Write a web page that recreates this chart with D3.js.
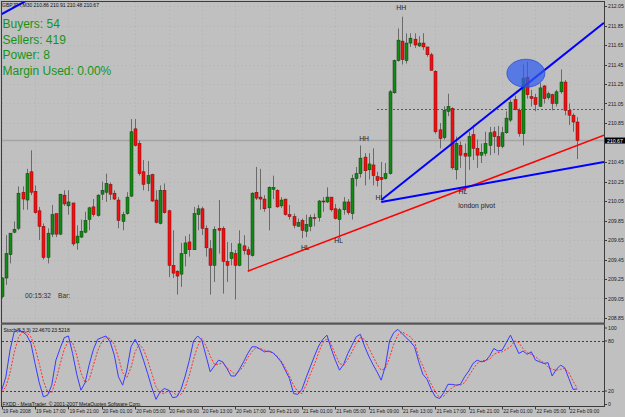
<!DOCTYPE html>
<html>
<head>
<meta charset="utf-8">
<script src="https://cdn.jsdelivr.net/npm/d3@7"></script>
<style>
  body { margin: 0; background: #c0c0c0; }
  svg { display: block; }
</style>
</head>
<body>
<div id="chart"></div>
<script>
// GBPJPY M30, bar 1 = 19 Feb 13:00 ... bar 139 = 22 Feb 10:00
const opens = [209.07,209.26,209.50,209.73,209.77,210.14,210.06,210.35,210.15,209.95,
  209.79,209.47,209.71,209.92,209.71,210.11,210.00,210.03,209.62,209.68,
  209.73,209.86,209.99,209.90,210.12,210.14,210.22,210.13,210.06,209.84,
  209.92,210.10,210.79,210.64,210.35,210.23,210.32,210.06,209.82,210.16,
  209.95,209.39,209.33,209.30,209.51,209.63,209.55,209.91,209.97,209.77,
  209.56,209.39,209.77,209.77,209.43,209.46,209.51,209.39,209.59,209.55,
  209.49,210.14,210.09,210.07,209.98,210.17,210.16,210.00,210.07,209.91,
  209.89,209.79,209.85,209.74,209.79,209.88,209.88,210.05,210.04,210.09,
  209.97,209.86,209.96,210.04,209.92,210.28,210.33,210.50,210.37,210.42,
  210.30,210.29,210.28,210.33,211.16,211.49,211.69,211.49,211.67,211.71,
  211.64,211.67,211.63,211.55,211.38,210.78,210.70,210.97,211.00,210.37,
  210.62,210.54,210.51,210.73,210.59,210.52,210.54,210.62,210.76,210.71,
  210.61,210.75,210.88,211.09,210.98,210.74,211.32,211.12,211.11,211.02,
  211.23,211.11,211.14,211.05,211.17,211.27,210.98,210.93,210.86];
const highs = [209.27,209.70,209.72,209.84,210.20,210.20,210.38,210.57,210.21,209.99,
  209.82,209.77,210.01,209.92,210.12,210.16,210.16,210.03,209.80,209.86,
  209.94,209.99,210.07,210.12,210.25,210.33,210.24,210.16,210.09,209.94,
  210.14,210.89,210.89,210.67,210.47,210.46,210.33,210.16,210.21,210.23,
  209.96,209.75,209.34,209.62,209.69,209.71,209.99,210.01,209.99,209.80,
  209.65,209.79,210.06,209.79,209.63,209.62,209.55,209.75,209.70,209.58,
  210.14,210.40,210.38,210.11,210.20,210.31,210.17,210.09,210.07,210.01,
  209.92,209.87,209.87,209.91,209.91,209.92,210.06,210.09,210.19,210.09,
  210.02,209.98,210.09,210.07,210.32,210.40,210.62,210.54,210.54,210.59,
  210.35,210.45,210.44,211.19,211.50,211.82,211.94,211.77,211.77,211.77,
  211.74,211.77,211.63,211.57,211.39,210.85,211.02,211.15,211.01,210.71,
  210.66,210.64,210.76,210.83,210.68,210.64,210.76,210.81,210.81,210.82,
  210.81,210.97,211.09,211.13,211.00,211.45,211.48,211.19,211.15,211.26,
  211.24,211.17,211.15,211.19,211.40,211.29,211.05,210.95,210.91];
const lows = [209.05,209.19,209.41,209.72,209.75,209.96,209.96,210.11,209.92,209.65,
  209.45,209.41,209.68,209.68,209.70,210.00,209.91,209.59,209.55,209.67,
  209.72,209.75,209.89,209.89,210.06,210.04,210.06,210.06,209.77,209.75,
  209.91,210.09,210.61,210.31,210.16,210.15,210.04,209.82,209.81,209.92,
  209.27,209.26,209.09,209.17,209.38,209.48,209.55,209.75,209.70,209.48,
  209.09,209.22,209.51,209.10,209.22,209.39,209.04,209.38,209.50,209.33,
  209.48,210.06,209.96,209.94,209.75,210.07,209.98,209.98,209.90,209.86,
  209.77,209.79,209.67,209.68,209.74,209.79,209.84,209.94,210.03,209.94,
  209.86,209.67,209.91,209.91,209.86,210.20,210.29,210.21,210.27,210.21,
  210.20,210.08,210.27,210.32,211.15,211.48,211.45,211.46,211.63,211.62,
  211.63,211.60,211.53,211.39,210.74,210.59,210.68,210.92,210.37,210.27,
  210.39,210.15,210.37,210.47,210.39,210.44,210.51,210.52,210.54,210.52,
  210.59,210.74,210.86,210.98,210.71,210.62,211.10,211.02,210.97,211.02,
  211.05,211.09,210.98,211.02,211.15,210.93,210.83,210.76,210.48];
const closes = [209.26,209.51,209.72,209.76,210.13,210.07,210.33,210.14,209.93,209.79,
  209.47,209.72,209.91,209.71,210.12,210.02,210.04,209.61,209.69,209.74,
  209.85,209.98,209.91,210.11,210.16,210.23,210.12,210.07,209.85,209.91,
  210.09,210.76,210.62,210.33,210.22,210.31,210.05,209.83,210.16,209.93,
  209.39,209.31,209.28,209.51,209.62,209.55,209.92,209.97,209.77,209.57,
  209.39,209.76,209.75,209.43,209.39,209.52,209.39,209.61,209.54,209.50,
  210.13,210.08,210.07,209.97,210.19,210.19,209.99,210.06,209.91,209.89,
  209.80,209.83,209.75,209.81,209.88,209.87,210.05,210.04,210.09,209.96,
  209.87,209.96,210.04,209.93,210.28,210.33,210.49,210.36,210.43,210.31,
  210.26,210.27,210.33,211.17,211.49,211.70,211.50,211.67,211.72,211.65,
  211.67,211.63,211.55,211.39,210.76,210.69,210.98,211.02,210.39,210.64,
  210.52,210.51,210.71,210.59,210.52,210.55,210.64,210.75,210.71,210.61,
  210.75,210.90,211.06,210.99,210.74,211.31,211.14,211.10,211.04,211.21,
  211.10,211.15,211.05,211.17,211.27,210.98,210.93,210.86,210.67];

// Stoch(5,3,3) main / signal, one value per bar
const stochMain = [21,37,69,91,93,91,87,77,53,30, 13,15,27,57,71,84,86,65,40,21,
  30,52,70,82,84,86,79,63,37,27, 45,73,82,72,57,41,24,10,19,23,
  21,12,13,22,38,57,80,86,81,62, 43,50,57,55,47,38,38,46,55,65,
  73,73,70,67,68,66,61,55,45,35, 17,16,22,36,49,62,74,82,87,71,
  57,45,52,65,75,85,88,74,62,52, 43,33,50,80,90,94,89,84,79,73,
  55,40,34,22,13,11,18,28,28,27, 28,37,44,53,57,55,56,62,71,68,
  69,78,87,76,65,68,64,67,57,55, 53,54,38,46,51,48,35,22,22.467];
const stochSignal = [19,25,42,66,84,91,90,85,72,53, 32,19,18,33,52,70,80,78,63,42,
  30,34,51,68,79,84,83,76,60,42, 36,48,67,76,70,57,41,25,18,17,
  21,19,15,16,24,39,58,74,83,74, 62,52,52,54,48,44,40,44,50,60,
  67,72,71,69,67,66,62,56,48,38, 27,19,17,27,40,52,66,78,83,76,
  64,53,51,58,67,77,84,82,72,62, 52,45,47,60,76,87,91,88,85,79,
  60,50,38,28,19,12,14,19,24,27, 27,30,38,46,53,56,57,58,64,66,
  67,70,73,80,78,71,66,64,61,57, 54,49,46,45,46,47,42,32,23.5218];

const priceTicks = [212.05,211.85,211.65,211.45,211.25,211.05,210.85,210.45,210.25,
  210.05,209.85,209.65,209.45,209.25,209.05,208.85];
const stochTicks = [100, 80, 20, 0];
const stochLevels = [80, 20];
const timeTickBars = [1,9,17,25,33,41,49,57,65,73,81,89,97,105,113,121,129,137];
const timeTickLabels = ['19 Feb 2008','19 Feb 17:00','19 Feb 21:00','20 Feb 01:00','20 Feb 05:00',
  '20 Feb 09:00','20 Feb 13:00','20 Feb 17:00','20 Feb 21:00','21 Feb 01:00','21 Feb 05:00',
  '21 Feb 09:00','21 Feb 13:00','21 Feb 17:00','21 Feb 21:00','22 Feb 01:00','22 Feb 05:00','22 Feb 09:00'];

// trend lines drawn by hand on the chart: [bar, price] pairs, extended to the right
const redTrend = [[60, 209.33], [139, 210.62]];
const blueTrendUp = [[92, 210.06], [139, 211.66]];
const blueTrendFlat = [[92, 210.04], [139, 210.40]];
const blueTrendOld = [[1, 211.968], [7, 212.106]];
const pivotLevel = { from: 91, price: 210.99 };
const bidPrice = 210.67;
const highlight = [126.7, 211.36];

const notes = [
  { bar: 96.8, price: 212.03, text: 'HH' },
  { bar: 87.9, price: 210.69, text: 'HH' },
  { bar: 91.7, price: 210.09, text: 'HL' },
  { bar: 111.6, price: 210.15, text: 'HL' },
  { bar: 73.8, price: 209.57, text: 'HL' },
  { bar: 81.8, price: 209.65, text: 'HL' },
  { bar: 114.9, price: 210.00, text: 'london pivot' }
];
const infoLines = ['Buyers: 54', 'Sellers: 419', 'Power: 8', 'Margin Used: 0.00%'];

const W = 625, H = 417;
const left = 2, right = 604, mainTop = 2, mainBottom = 322, subTop = 325, subBottom = 406.5;
const font = '"Liberation Sans", Arial, sans-serif';

const svg = d3.select('#chart').append('svg')
  .attr('width', W).attr('height', H)
  .style('font-family', font);

svg.append('rect').attr('width', W).attr('height', H).attr('fill', '#c0c0c0');

const x = d3.scaleLinear().domain([1, 139]).range([1.7, 577.2]);
const y = d3.scaleLinear().domain([208.85, 212.05]).range([318, 6]);
const ys = d3.scaleLinear().domain([0, 100]).range([407.7, 324.3]);

const defs = svg.append('defs');
defs.append('clipPath').attr('id', 'clipMain').append('rect')
  .attr('x', left).attr('y', mainTop).attr('width', right - left).attr('height', mainBottom - mainTop);
defs.append('clipPath').attr('id', 'clipSub').append('rect')
  .attr('x', left).attr('y', subTop).attr('width', right - left).attr('height', subBottom - subTop);

// dotted grid
const grid = svg.append('g').attr('stroke', '#b2b2b2').attr('stroke-dasharray', '1,3');
grid.selectAll('.gy').data(priceTicks).join('line')
  .attr('x1', left).attr('x2', right)
  .attr('y1', d => Math.round(y(d)) + 0.5).attr('y2', d => Math.round(y(d)) + 0.5);
grid.selectAll('.gx').data(timeTickBars).join('line')
  .attr('x1', d => Math.round(x(d)) + 0.5).attr('x2', d => Math.round(x(d)) + 0.5)
  .attr('y1', mainTop).attr('y2', mainBottom);

const main = svg.append('g').attr('clip-path', 'url(#clipMain)');

// bid line
main.append('line').attr('x1', left).attr('x2', right)
  .attr('y1', y(bidPrice)).attr('y2', y(bidPrice))
  .attr('stroke', '#a4a4a4').attr('stroke-width', 1.6);

// pivot (red dotted)
main.append('line').attr('x1', x(pivotLevel.from)).attr('x2', right)
  .attr('y1', Math.round(y(pivotLevel.price)) + 0.5).attr('y2', Math.round(y(pivotLevel.price)) + 0.5)
  .attr('stroke', '#e02020').attr('stroke-dasharray', '2,2');

// candles
const bars = d3.range(opens.length).map(i => ({
  i: i + 1, o: opens[i], h: highs[i], l: lows[i], c: closes[i]
}));
const cx = d => Math.round(x(d.i));
main.selectAll('.wick').data(bars).join('line')
  .attr('x1', d => cx(d) + 0.5).attr('x2', d => cx(d) + 0.5)
  .attr('y1', d => y(d.h)).attr('y2', d => y(d.l))
  .attr('stroke', '#6a6a6a').attr('stroke-width', 1);
main.selectAll('.body').data(bars).join('rect')
  .attr('x', d => cx(d) - 1)
  .attr('width', 3)
  .attr('y', d => y(Math.max(d.o, d.c)))
  .attr('height', d => Math.max(1, Math.abs(y(d.o) - y(d.c))))
  .attr('fill', d => d.c >= d.o ? '#138a13' : '#f01010')
  .attr('stroke', d => d.c >= d.o ? '#0a3f0a' : '#7a0a0a')
  .attr('stroke-width', 0.5);

// trend lines, extended to the price axis
function ray(pts, color, w) {
  const [a, b] = pts;
  const x1 = x(a[0]), y1 = y(a[1]), x2 = x(b[0]), y2 = y(b[1]);
  const k = (y2 - y1) / (x2 - x1);
  main.append('line')
    .attr('x1', x1).attr('y1', y1)
    .attr('x2', right).attr('y2', y1 + k * (right - x1))
    .attr('stroke', color).attr('stroke-width', w);
}
ray(redTrend, '#ff0000', 1.5);
ray(blueTrendUp, '#0000ff', 2);
ray(blueTrendFlat, '#0000ff', 2);
ray(blueTrendOld, '#0000ff', 2);

// highlight ellipse
main.append('ellipse')
  .attr('cx', x(highlight[0])).attr('cy', y(highlight[1]))
  .attr('rx', 19).attr('ry', 14)
  .attr('fill', '#2f5cf0').attr('fill-opacity', 0.72)
  .attr('stroke', '#2a4fd8').attr('stroke-width', 0.8);

// annotations
main.selectAll('.note').data(notes).join('text')
  .attr('x', d => x(d.bar)).attr('y', d => y(d.price))
  .attr('text-anchor', 'middle').attr('dominant-baseline', 'central')
  .attr('font-size', 6.8).attr('fill', '#202020')
  .text(d => d.text);

// header + info texts
svg.append('text').attr('x', 2).attr('y', 6.8).attr('font-size', 5).attr('fill', '#101010')
  .text('GBPJPY,M30  210.86 210.91 210.48 210.67');
svg.selectAll('.info').data(infoLines).join('text')
  .attr('x', 2.5).attr('y', (d, i) => 28 + i * 15.6)
  .attr('font-size', 12).attr('fill', '#169416')
  .text(d => d);
svg.append('text').attr('x', 25).attr('y', 297.5).attr('font-size', 6.7).attr('fill', '#303030').text('00:15:32');
svg.append('text').attr('x', 58).attr('y', 297.5).attr('font-size', 6.7).attr('fill', '#303030').text('Bar:');

// stochastic sub window
const sub = svg.append('g').attr('clip-path', 'url(#clipSub)');
sub.selectAll('.lvl').data(stochLevels).join('line')
  .attr('x1', left).attr('x2', right)
  .attr('y1', d => Math.round(ys(d)) + 0.5).attr('y2', d => Math.round(ys(d)) + 0.5)
  .attr('stroke', '#404040').attr('stroke-dasharray', '2,2');

const sLine = d3.line().x((d, i) => x(i + 1)).y(d => ys(d));
sub.append('path').datum(stochSignal).attr('d', sLine)
  .attr('fill', 'none').attr('stroke', '#ff3030').attr('stroke-width', 1)
  .attr('stroke-dasharray', '2,1.5');
sub.append('path').datum(stochMain).attr('d', sLine)
  .attr('fill', 'none').attr('stroke', '#3a3aff').attr('stroke-width', 1);

svg.append('text').attr('x', 3.5).attr('y', 332).attr('font-size', 5).attr('fill', '#101010')
  .text('Stoch(5,3,3) 22.4670 23.5218');
svg.append('text').attr('x', 2.5).attr('y', 405.5).attr('font-size', 5).attr('fill', '#101010')
  .text('FXDD - MetaTrader, \u00a9 2001-2007 MetaQuotes Software Corp.');

// frames
const frame = svg.append('g').attr('stroke', '#3c3c3c').attr('fill', 'none');
frame.append('line').attr('x1', 1.5).attr('x2', 1.5).attr('y1', 1).attr('y2', subBottom);
frame.append('line').attr('x1', 1).attr('x2', right).attr('y1', 1.5).attr('y2', 1.5);
frame.append('line').attr('x1', right + 0.5).attr('x2', right + 0.5).attr('y1', 1).attr('y2', subBottom);
frame.append('line').attr('x1', 1).attr('x2', right + 1).attr('y1', subBottom).attr('y2', subBottom);
svg.append('rect').attr('x', 1).attr('y', 322.5).attr('width', right).attr('height', 2.2).attr('fill', '#555');

// price axis
const pAxis = svg.append('g').attr('font-size', 5.2).attr('fill', '#202020');
pAxis.selectAll('line').data(priceTicks).join('line')
  .attr('x1', right).attr('x2', right + 3)
  .attr('y1', d => Math.round(y(d)) + 0.5).attr('y2', d => Math.round(y(d)) + 0.5)
  .attr('stroke', '#3c3c3c');
pAxis.selectAll('text').data(priceTicks).join('text')
  .attr('x', right + 4).attr('y', d => y(d)).attr('dominant-baseline', 'central')
  .text(d => d.toFixed(2));

// current price box
svg.append('rect').attr('x', right + 1).attr('y', y(bidPrice) - 3).attr('width', 20).attr('height', 6).attr('fill', '#000');
svg.append('text').attr('x', right + 3).attr('y', y(bidPrice)).attr('dominant-baseline', 'central')
  .attr('font-size', 5.2).attr('fill', '#fff').text(bidPrice.toFixed(2));

// stoch axis
const sAxis = svg.append('g').attr('font-size', 5.2).attr('fill', '#202020');
sAxis.selectAll('line').data(stochTicks).join('line')
  .attr('x1', right).attr('x2', right + 3)
  .attr('y1', d => Math.min(Math.max(ys(d), subTop + 3), subBottom - 2))
  .attr('y2', d => Math.min(Math.max(ys(d), subTop + 3), subBottom - 2))
  .attr('stroke', '#3c3c3c');
sAxis.selectAll('text').data(stochTicks).join('text')
  .attr('x', right + 4)
  .attr('y', d => Math.min(Math.max(ys(d), subTop + 3), subBottom - 2.5))
  .attr('dominant-baseline', 'central')
  .text(d => d);

// time axis
const tAxis = svg.append('g').attr('font-size', 5).attr('fill', '#202020');
tAxis.selectAll('line').data(timeTickBars).join('line')
  .attr('x1', d => Math.round(x(d)) + 0.5).attr('x2', d => Math.round(x(d)) + 0.5)
  .attr('y1', subBottom).attr('y2', subBottom + 3)
  .attr('stroke', '#3c3c3c');
tAxis.selectAll('text').data(timeTickLabels).join('text')
  .attr('x', (d, i) => x(timeTickBars[i]) + 1).attr('y', 413)
  .text(d => d);
</script>
</body>
</html>
